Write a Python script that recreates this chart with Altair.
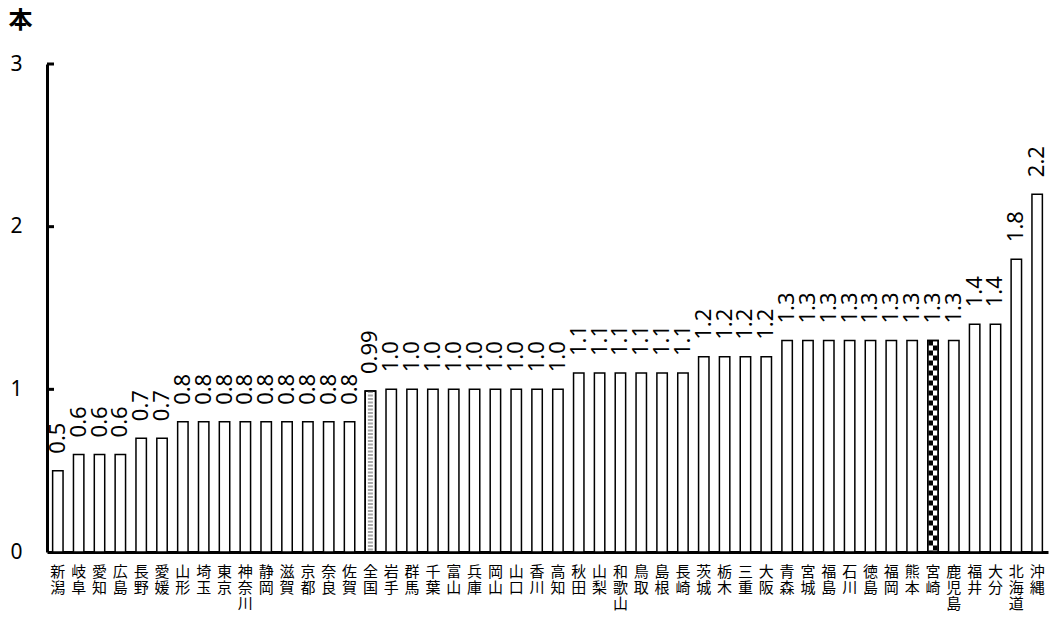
import altair as alt
import pandas as pd

prefs = ["新潟", "岐阜", "愛知", "広島", "長野", "愛媛", "山形", "埼玉", "東京", "神奈川",
         "静岡", "滋賀", "京都", "奈良", "佐賀", "全国", "岩手", "群馬", "千葉", "富山",
         "兵庫", "岡山", "山口", "香川", "高知", "秋田", "山梨", "和歌山", "鳥取", "島根",
         "長崎", "茨城", "栃木", "三重", "大阪", "青森", "宮城", "福島", "石川", "徳島",
         "福岡", "熊本", "宮崎", "鹿児島", "福井", "大分", "北海道", "沖縄"]
values = [0.5, 0.6, 0.6, 0.6, 0.7, 0.7, 0.8, 0.8, 0.8, 0.8,
          0.8, 0.8, 0.8, 0.8, 0.8, 0.99, 1.0, 1.0, 1.0, 1.0,
          1.0, 1.0, 1.0, 1.0, 1.0, 1.1, 1.1, 1.1, 1.1, 1.1,
          1.1, 1.2, 1.2, 1.2, 1.2, 1.3, 1.3, 1.3, 1.3, 1.3,
          1.3, 1.3, 1.3, 1.3, 1.4, 1.4, 1.8, 2.2]
national = "全国"
highlight = "宮崎"
y_ticks = [1, 2, 3]

labels = [f"{v:.2f}" if round(v, 1) != v else f"{v:.1f}" for v in values]
kinds = ["national" if p == national else ("highlight" if p == highlight else "normal") for p in prefs]

df = pd.DataFrame({"pref": prefs, "value": values, "label": labels, "kind": kinds, "zero": 0.0})
tick_df = pd.DataFrame({"t": y_ticks})

x = alt.X("pref:N", sort=prefs,
          scale=alt.Scale(paddingInner=0.5, paddingOuter=0.27),
          axis=alt.Axis(title=None, labelAngle=0, labelExpr="split(datum.label, '')",
                        labelFont="Noto Sans CJK JP", labelFontSize=15, labelLineHeight=16,
                        labelBaseline="top", labelPadding=12, ticks=False,
                        domainWidth=3, domainColor="black", labelColor="black"))
y = alt.Y("value:Q", scale=alt.Scale(domain=[0, 3], nice=False),
          axis=alt.Axis(values=[0, 1, 2, 3], format="d", ticks=False, grid=False, domainWidth=3,
                        domainColor="black", labelFont="Noto Sans", labelFontSize=21,
                        labelColor="black", labelPadding=25,
                        title="本", titleAngle=0, titleX=-27, titleY=-44,
                        titleAlign="center", titleBaseline="middle",
                        titleFont="Noto Sans CJK JP", titleFontSize=24,
                        titleFontWeight="bold", titleColor="black"))

base = alt.Chart(df)

bars = base.mark_bar(stroke="black", strokeWidth=1.5, fill="white").encode(x=x, y=y)

nat = base.transform_filter(alt.datum.kind == "national")
dots = nat.mark_rule(strokeWidth=5, strokeDash=[2, 1.5], color="#a8a8a8").encode(
    x=alt.X("pref:N", sort=prefs), y="value:Q", y2="zero:Q")

hl = base.transform_filter(alt.datum.kind == "highlight")
check1 = hl.mark_rule(strokeWidth=4.5, strokeDash=[5, 5], color="black", xOffset=-2.25).encode(
    x=alt.X("pref:N", sort=prefs), y="value:Q", y2="zero:Q")
check2 = hl.mark_rule(strokeWidth=4.5, strokeDash=[5, 5], strokeDashOffset=5, color="black",
                      xOffset=2.25).encode(
    x=alt.X("pref:N", sort=prefs), y="value:Q", y2="zero:Q")
outline = base.transform_filter(alt.datum.kind != "normal").mark_bar(
    stroke="black", strokeWidth=1.5, fillOpacity=0).encode(
    x=alt.X("pref:N", sort=prefs), y="value:Q")

text = base.mark_text(angle=270, align="left", baseline="middle", dx=17,
                      font="Noto Sans", fontSize=22, color="black").encode(
    x=alt.X("pref:N", sort=prefs), y="value:Q", text="label:N")

ticks = alt.Chart(tick_df).mark_rule(color="black", strokeWidth=3).encode(
    y=alt.Y("t:Q"), x=alt.value(0), x2=alt.value(7))

chart = alt.layer(bars, dots, check1, check2, outline, text, ticks).properties(
    width=1001, height=488, padding=0, background="white"
).configure_view(stroke=None)

chart.save("out.html", embed_options={"renderer": "svg", "actions": False})
